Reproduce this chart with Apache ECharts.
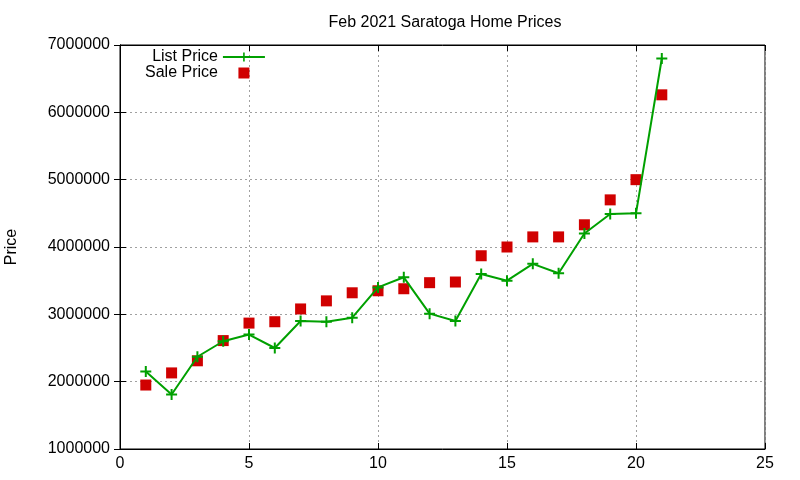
<!DOCTYPE html>
<html>
<head>
<meta charset="utf-8">
<script src="https://cdn.jsdelivr.net/npm/echarts@6/dist/echarts.min.js"></script>
<style>
html, body { margin: 0; padding: 0; background: #fff; }
#chart { width: 800px; height: 480px; }
</style>
</head>
<body>
<div id="chart"></div>
<script>
var days = [1, 2, 3, 4, 5, 6, 7, 8, 9, 10, 11, 12, 13, 14, 15, 16, 17, 18, 19, 20, 21];
var listPrice = [2150000, 1810000, 2370000, 2600000, 2700000, 2500000, 2900000, 2890000, 2950000, 3400000, 3550000,
    3010000, 2900000, 3600000, 3500000, 3750000, 3610000, 4200000, 4490000, 4500000, 6800000];
var salePrice = [1950000, 2130000, 2310000, 2610000, 2870000, 2890000, 3080000, 3200000, 3320000, 3350000, 3380000,
    3470000, 3480000, 3870000, 4000000, 4150000, 4150000, 4330000, 4700000, 5000000, 6260000];
var xTicks = [0, 25, 5];
var yTicks = [1000000, 7000000, 1000000];

var font = 'Liberation Sans, Arial, sans-serif';
var plus = 'path://M4.5,0H6.5V4.5H11V6.5H6.5V11H4.5V6.5H0V4.5H4.5Z';
// square centred in a 42x11 box (move-to points stretch the bounds)
var keySquare = 'path://M0,0M42,11M15.5,0h11v11h-11z';

function pairs(vals) {
    return days.map(function (d, i) { return [d, vals[i]]; });
}

var chart = echarts.init(document.getElementById('chart'));
var gridLine = { show: true, lineStyle: { color: '#a0a0a0', type: [2, 3], width: 1 } };
var noLine = { show: false };

chart.setOption({
    animation: false,
    backgroundColor: '#fff',
    title: {
        text: 'Feb 2021 Saratoga Home Prices',
        left: 440, top: 10, textAlign: 'center',
        textStyle: { fontFamily: font, fontSize: 16, fontWeight: 'normal', color: '#000' }
    },
    legend: {
        orient: 'vertical',
        left: 140, top: 44,
        align: 'right',
        itemWidth: 42, itemHeight: 11, itemGap: 0,
        textStyle: { fontFamily: font, fontSize: 16, color: '#000' },
        data: [{ name: 'List Price' }, { name: 'Sale Price', icon: keySquare }]
    },
    grid: { left: 120, right: 35, top: 45, bottom: 31, containLabel: false, outerBoundsMode: 'none',
        show: true, borderColor: '#000', borderWidth: 1 },
    xAxis: [{
        type: 'value', min: xTicks[0], max: xTicks[1], interval: xTicks[2],
        axisLine: { lineStyle: { color: '#000' } },
        axisTick: { inside: true, length: 6, lineStyle: { color: '#000' } },
        axisLabel: { color: '#000', fontFamily: font, fontSize: 16, margin: 7 },
        splitLine: gridLine
    }, {
        type: 'value', position: 'top', min: xTicks[0], max: xTicks[1], interval: xTicks[2],
        axisLine: { lineStyle: { color: '#000' } },
        axisTick: { inside: true, length: 6, lineStyle: { color: '#000' } },
        axisLabel: noLine, splitLine: noLine
    }],
    yAxis: [{
        type: 'value', min: yTicks[0], max: yTicks[1], interval: yTicks[2],
        name: 'Price', nameLocation: 'middle', nameGap: 100,
        nameTextStyle: { fontFamily: font, fontSize: 16, color: '#000' },
        axisLine: { show: true, lineStyle: { color: '#000' } },
        axisTick: { show: true, inside: true, length: 6, lineStyle: { color: '#000' } },
        axisLabel: { color: '#000', fontFamily: font, fontSize: 16, margin: 10,
            formatter: function (v) { return String(v); } },
        splitLine: gridLine
    }, {
        type: 'value', position: 'right', min: yTicks[0], max: yTicks[1], interval: yTicks[2],
        axisLine: { show: true, lineStyle: { color: '#000' } },
        axisTick: { show: true, inside: true, length: 6, lineStyle: { color: '#000' } },
        axisLabel: noLine, splitLine: noLine
    }],
    series: [{
        name: 'List Price',
        type: 'line',
        data: pairs(listPrice),
        symbol: plus,
        symbolSize: 11,
        showAllSymbol: true,
        color: '#00a000',
        lineStyle: { width: 2, color: '#00a000' },
        itemStyle: { color: '#00a000' },
        z: 3
    }, {
        name: 'Sale Price',
        type: 'scatter',
        data: pairs(salePrice),
        symbol: 'rect',
        symbolSize: 11,
        color: '#d00000',
        itemStyle: { color: '#d00000', opacity: 1 },
        z: 2
    }]
});
</script>
</body>
</html>
